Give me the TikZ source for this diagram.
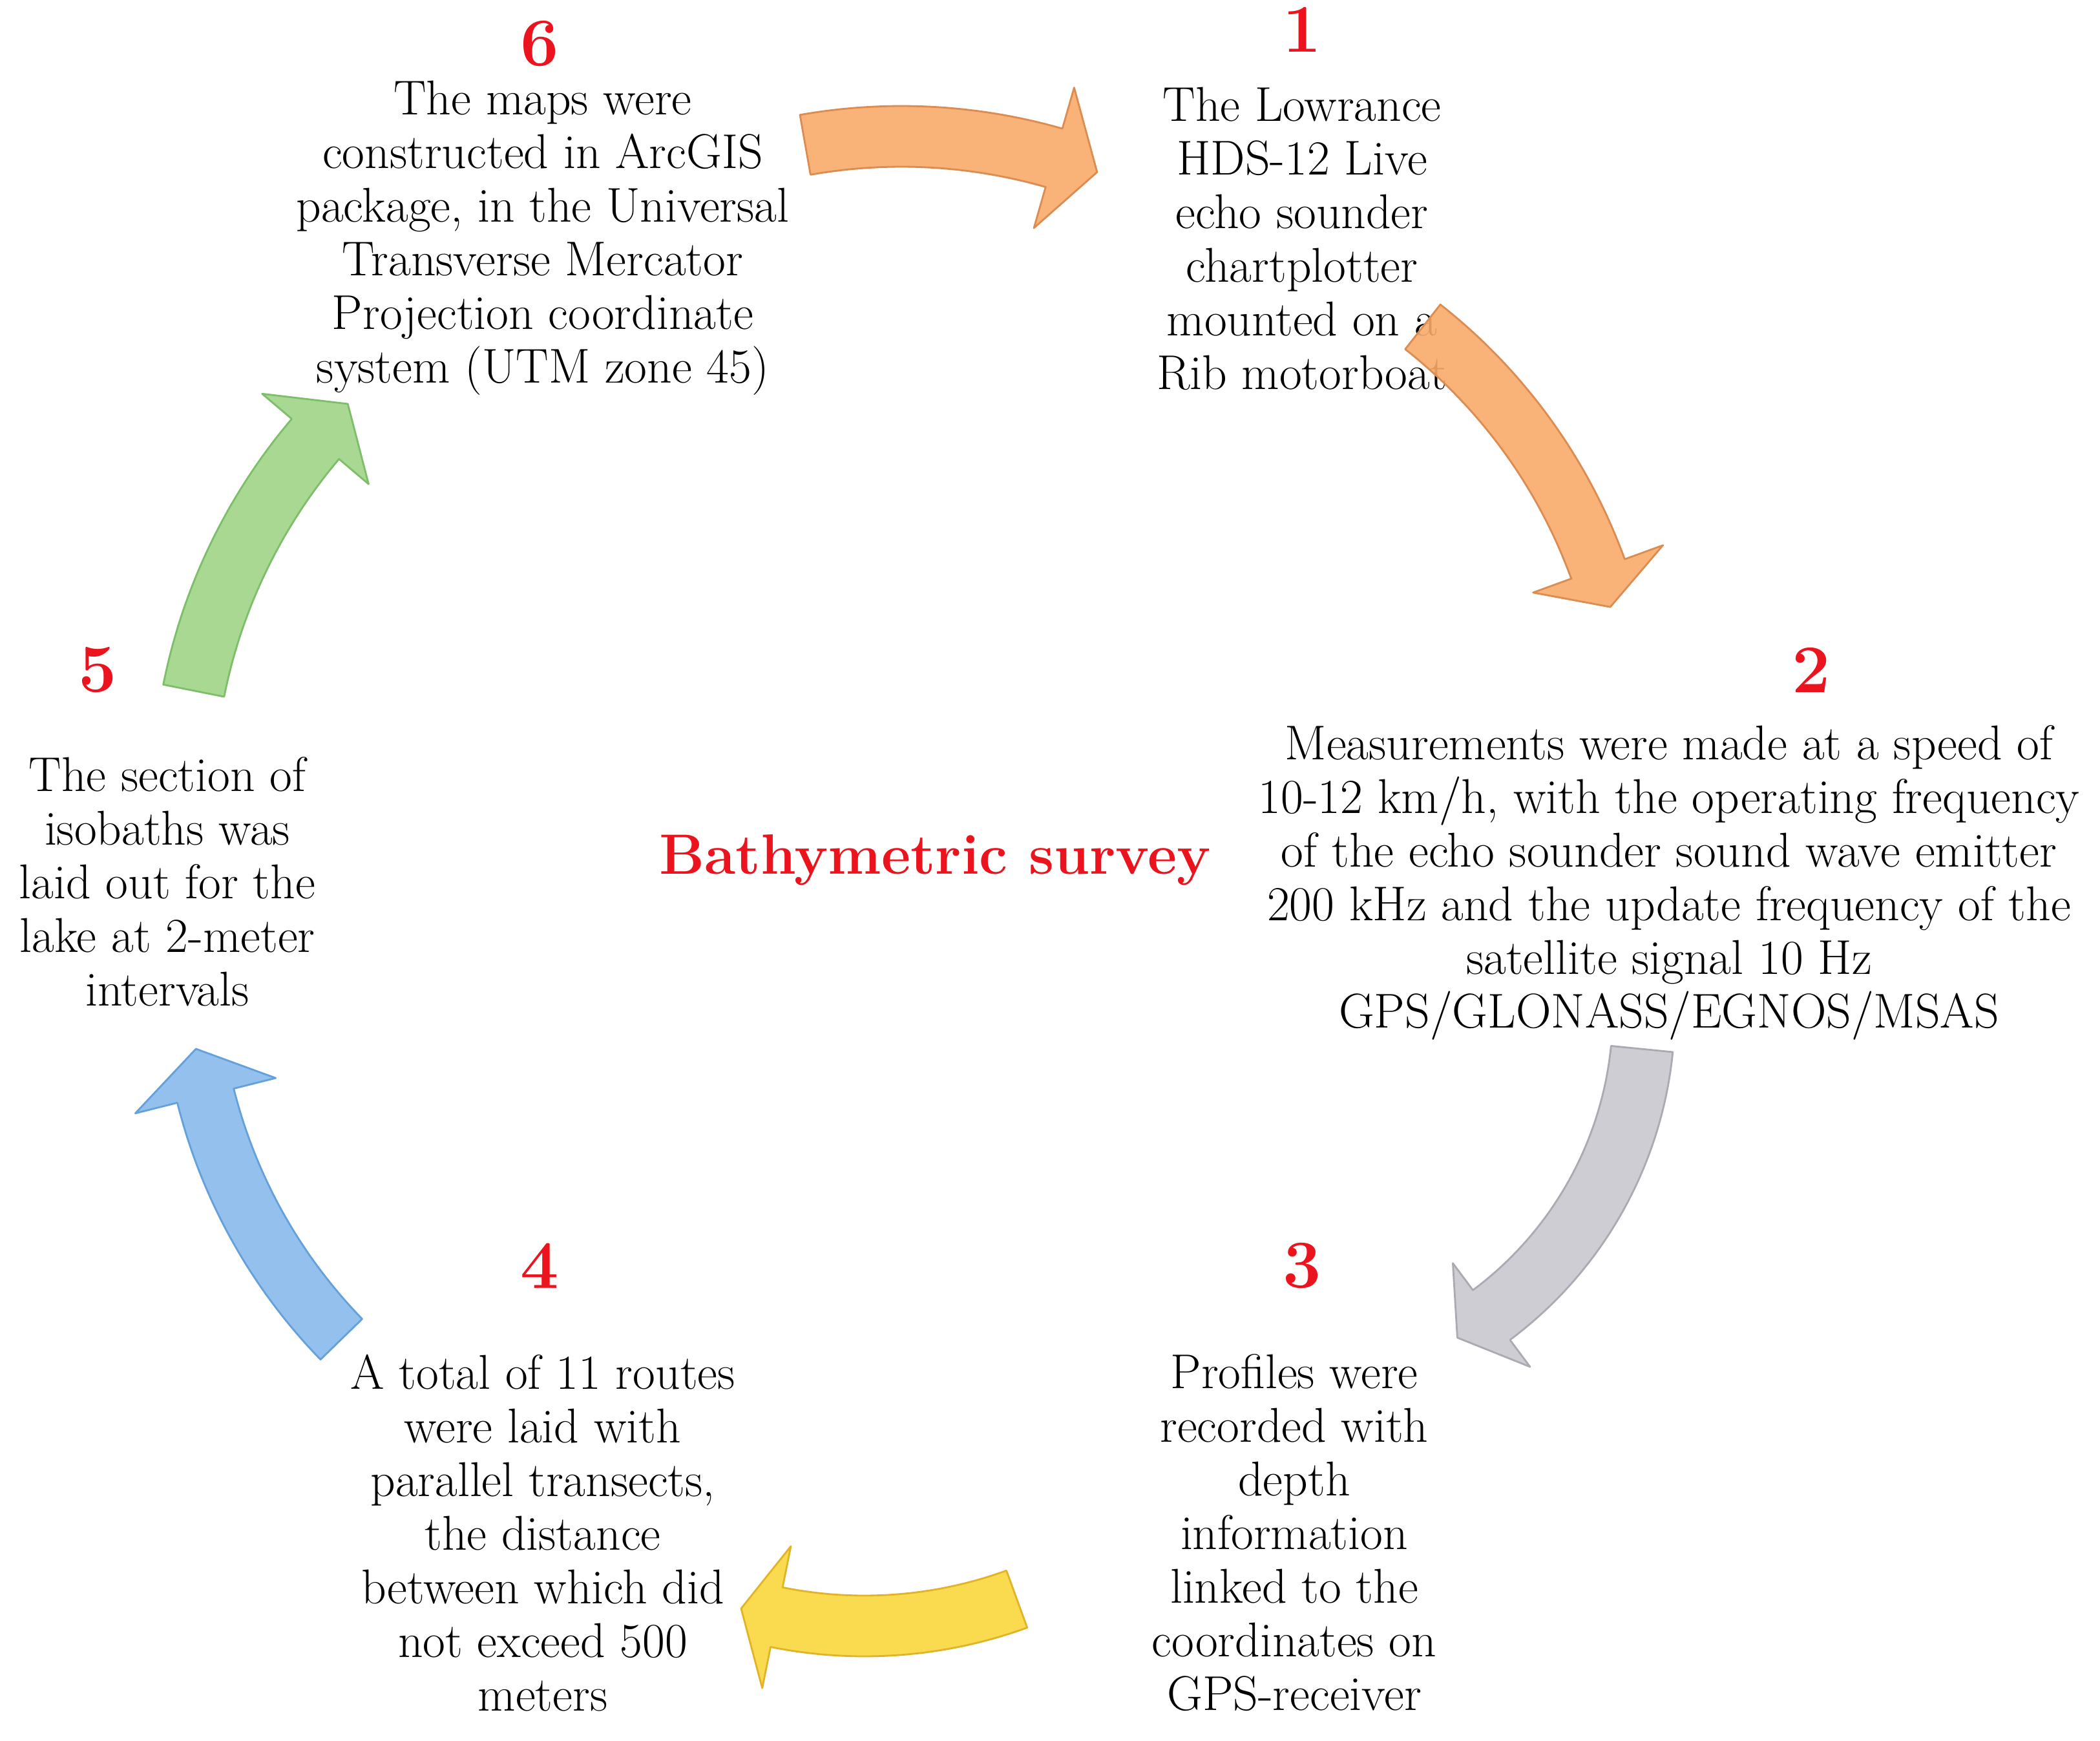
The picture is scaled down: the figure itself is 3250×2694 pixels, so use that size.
\documentclass[tikz,border=0pt]{standalone}
\definecolor{numred}{RGB}{235,20,30}
\definecolor{orfill}{RGB}{248,170,105}
\definecolor{ordraw}{RGB}{220,140,80}
\definecolor{greyfill}{RGB}{200,200,206}
\definecolor{greydraw}{RGB}{170,170,178}
\definecolor{yelfill}{RGB}{250,214,60}
\definecolor{yeldraw}{RGB}{225,180,40}
\definecolor{bluefill}{RGB}{135,185,235}
\definecolor{bluedraw}{RGB}{100,160,220}
\definecolor{grnfill}{RGB}{160,212,135}
\definecolor{grndraw}{RGB}{125,190,105}
% curved block arrow: cx, cy, radius, tail angle, head angle, tip angle, half width, head half width, style
\newcommand{\bentarrow}[9]{%
\filldraw[#9] plot[domain=#4:#5,samples=40] ({#1+(#3+#7)*cos(\x)},{#2+(#3+#7)*sin(\x)})
  -- ({#1+(#3+#8)*cos(#5)},{#2+(#3+#8)*sin(#5)})
  -- ({#1+#3*cos(#6)},{#2+#3*sin(#6)})
  -- ({#1+(#3-#8)*cos(#5)},{#2+(#3-#8)*sin(#5)})
  -- plot[domain=#5:#4,samples=40] ({#1+(#3-#7)*cos(\x)},{#2+(#3-#7)*sin(\x)}) -- cycle;}
\begin{document}
\begin{tikzpicture}[x=0.01cm,y=-0.01cm,line join=round,
  txt/.style={align=center,inner sep=0pt,font=\fontsize{21.5}{23.6}\selectfont},
  num/.style={inner sep=0pt,text=numred,font=\fontsize{30}{34}\selectfont\bfseries},
  orarrow/.style={fill=orfill,draw=ordraw,line width=0.8pt,fill opacity=0.9},
  greyarrow/.style={fill=greyfill,draw=greydraw,line width=0.8pt,fill opacity=0.9},
  yelarrow/.style={fill=yelfill,draw=yeldraw,line width=0.8pt,fill opacity=0.9},
  bluearrow/.style={fill=bluefill,draw=bluedraw,line width=0.8pt,fill opacity=0.9},
  grnarrow/.style={fill=grnfill,draw=grndraw,line width=0.8pt,fill opacity=0.9}]
\useasboundingbox (0,0) rectangle (3250,2694);
% step texts
\node[txt] (t1) at (2015,369) {The Lowrance\\HDS-12 Live\\echo sounder\\chartplotter\\mounted on a\\Rib motorboat};
\node[txt] (t2) at (2583,1366) {Measurements were made at a speed of\\10-12 km/h, with the operating frequency\\of the echo sounder sound wave emitter\\200 kHz and the update frequency of the\\satellite signal 10 Hz\\GPS/GLONASS/EGNOS/MSAS};
\node[txt] (t3) at (2003,2372) {Profiles were\\recorded with\\depth\\information\\linked to the\\coordinates on\\GPS-receiver};
\node[txt] (t4) at (840,2372) {A total of 11 routes\\were laid with\\parallel transects,\\the distance\\between which did\\not exceed 500\\meters};
\node[txt] (t5) at (259,1364) {The section of\\isobaths was\\laid out for the\\lake at 2-meter\\intervals};
\node[txt] (t6) at (840,368) {The maps were\\constructed in ArcGIS\\package, in the Universal\\Transverse Mercator\\Projection coordinate\\system (UTM zone 45)};
% numbers
\node[num] (n1) at (2015,46) {1};
\node[num] (n2) at (2803,1037) {2};
\node[num] (n3) at (2015,1959) {3};
\node[num] (n4) at (835,1959) {4};
\node[num] (n5) at (151,1037) {5};
\node[num] (n6) at (835,68) {6};
\node[inner sep=0pt,text=numred,font=\fontsize{25}{30}\selectfont\bfseries] (title) at (1447,1331) {Bathymetric survey};
% arrows
\bentarrow{1395}{1068}{857}{-100}{-74}{-69.3}{47}{113}{orarrow}
\bentarrow{1680}{1169}{844}{-51.8}{-20}{-15.8}{44}{107}{orarrow}
\bentarrow{1958}{1565}{586}{5.7}{53.3}{59.5}{48}{100}{greyarrow}
\bentarrow{1338}{1827}{689}{70}{101.4}{106.1}{47}{112}{yelarrow}
\bentarrow{1124}{1493}{831}{135.8}{165.9}{171}{45}{112}{bluearrow}
\bentarrow{1147}{1238}{864}{-168.7}{-139.7}{-134.8}{48}{108}{grnarrow}
\end{tikzpicture}
\end{document}
